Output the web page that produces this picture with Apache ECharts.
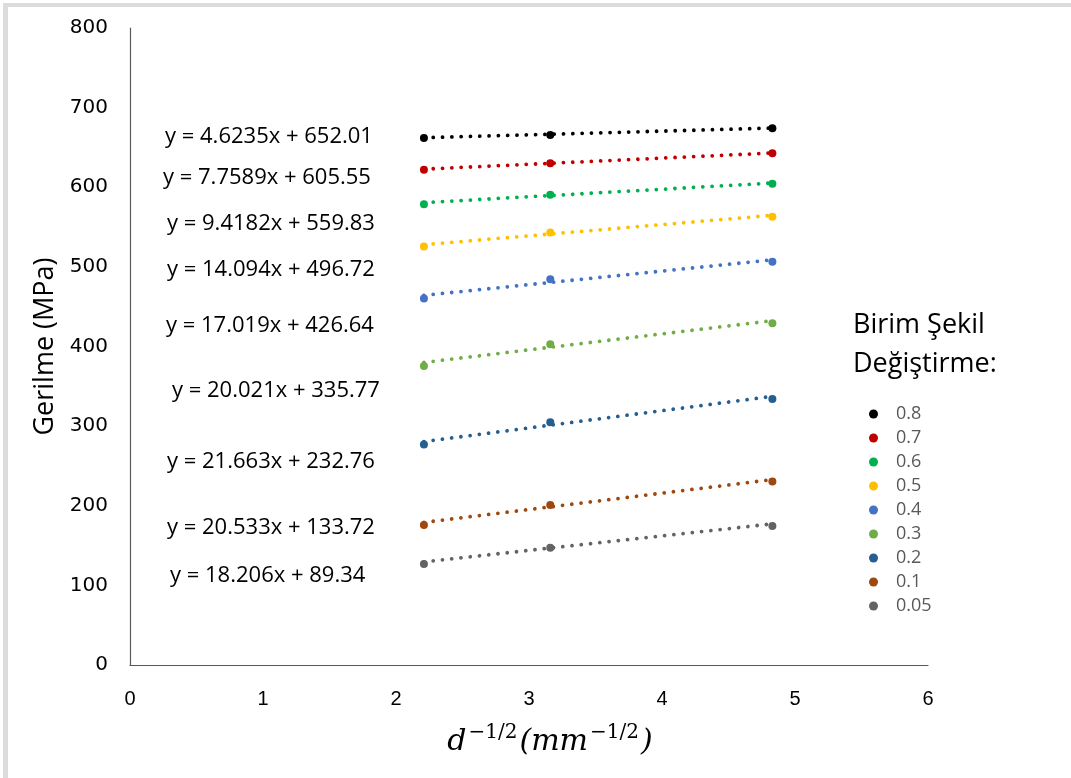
<!DOCTYPE html>
<html>
<head>
<meta charset="utf-8">
<script src="https://cdn.jsdelivr.net/npm/echarts@6/dist/echarts.min.js"></script>
<style>
  html, body { margin: 0; padding: 0; background: #ffffff; }
  #chart { width: 1071px; height: 778px; }
</style>
</head>
<body>
<div id="chart"></div>
<script>
// Grain size term d^(-1/2) for the three specimens
const xValues = [2.21, 3.16, 4.83];

// Strain levels (legend order)
const strainLabels = ['0.8', '0.7', '0.6', '0.5', '0.4', '0.3', '0.2', '0.1', '0.05'];

// Stress (MPa) at each strain level, one value per grain size
const stress08  = [662.0, 665.5, 674.2];
const stress07  = [621.9, 630.2, 642.8];
const stress06  = [578.7, 590.5, 604.3];
const stress05  = [525.5, 543.1, 562.8];
const stress04  = [460.2, 484.5, 506.3];
const stress03  = [375.6, 402.9, 429.3];
const stress02  = [276.8, 304.9, 334.2];
const stress01  = [175.9, 201.0, 230.3];
const stress005 = [126.9, 147.4, 174.6];

// Linear trendline coefficients (y = slope * x + intercept)
const slopes     = [4.6235, 7.7589, 9.4182, 14.094, 17.019, 20.021, 21.663, 20.533, 18.206];
const intercepts = [652.01, 605.55, 559.83, 496.72, 426.64, 335.77, 232.76, 133.72, 89.34];

// Equation text shown beside each trendline
const equationTexts = [
  'y = 4.6235x + 652.01',
  'y = 7.7589x + 605.55',
  'y = 9.4182x + 559.83',
  'y = 14.094x + 496.72',
  'y = 17.019x + 426.64',
  'y = 20.021x + 335.77',
  'y = 21.663x + 232.76',
  'y = 20.533x + 133.72',
  'y = 18.206x + 89.34'
];

const stressSeries = [stress08, stress07, stress06, stress05, stress04, stress03, stress02, stress01, stress005];
const colors = ['#000000', '#C00000', '#00B050', '#FFC000', '#4472C4', '#70AD47', '#255E91', '#9E480E', '#636363'];

// Screen placement of the equation labels (left edge, vertical centre)
const equationPlacement = [
  [165, 137], [163, 178], [167, 224], [167, 270], [166, 326],
  [172, 391], [167, 462], [167, 528], [170, 576]
];

const xMinData = Math.min(...xValues);
const xMaxData = Math.max(...xValues);

const series = [];
stressSeries.forEach((vals, i) => {
  series.push({
    name: strainLabels[i],
    type: 'scatter',
    symbol: 'circle',
    symbolSize: 8,
    itemStyle: { color: colors[i], opacity: 1 },
    emphasis: { disabled: true },
    data: xValues.map((x, k) => [x, vals[k]]),
    z: 3
  });
  series.push({
    name: 'trend-' + strainLabels[i],
    type: 'line',
    showSymbol: false,
    symbol: 'none',
    silent: true,
    lineStyle: { color: colors[i], width: 3.8, type: [0.01, 9.3], cap: 'round' },
    data: [
      [xMinData, slopes[i] * xMinData + intercepts[i]],
      [xMaxData, slopes[i] * xMaxData + intercepts[i]]
    ],
    z: 2
  });
});

const graphics = [
  // frame edges along the top and left
  {
    type: 'rect',
    shape: { x: 3, y: 3, width: 1068, height: 4 },
    style: { fill: '#dcdcdc' },
    silent: true
  },
  {
    type: 'rect',
    shape: { x: 3, y: 3, width: 5, height: 775 },
    style: { fill: '#dcdcdc' },
    silent: true
  },
  {
    type: 'text',
    x: 853,
    y: 325,
    style: {
      text: 'Birim Şekil',
      font: '27px "Open Sans", sans-serif',
      fill: '#000000',
      verticalAlign: 'middle'
    }
  },
  {
    type: 'text',
    x: 853,
    y: 364,
    style: {
      text: 'Değiştirme:',
      font: '27px "Open Sans", sans-serif',
      fill: '#000000',
      verticalAlign: 'middle'
    }
  }
];
equationTexts.forEach((t, i) => {
  graphics.push({
    type: 'text',
    x: equationPlacement[i][0],
    y: equationPlacement[i][1],
    style: { text: t, font: '22px "Open Sans", sans-serif', fill: '#000000', verticalAlign: 'middle' }
  });
});

const chart = echarts.init(document.getElementById('chart'), null, { renderer: 'canvas' });
chart.setOption({
  backgroundColor: '#ffffff',
  animation: false,
  grid: { left: 130, right: 143, top: 28, bottom: 113, containLabel: false },
  xAxis: {
    type: 'value',
    min: 0, max: 6, interval: 1,
    axisLine: { show: true, lineStyle: { color: '#595959', width: 1.2 } },
    axisTick: { show: false },
    splitLine: { show: false },
    axisLabel: { margin: 24, fontSize: 20, color: '#000000', fontFamily: '"Liberation Sans Narrow", "Liberation Sans", sans-serif' },
    name: '{it|d}{sup|−1/2}{it|(mm}{sup|−1/2}{it|)}',
    nameLocation: 'middle',
    nameGap: 58,
    nameTextStyle: {
      padding: [0, 0, 0, 42],
      rich: {
        it: { fontFamily: '"DejaVu Serif", serif', fontStyle: 'italic', fontSize: 30, color: '#000', verticalAlign: 'bottom' },
        sup: { fontFamily: '"DejaVu Serif", serif', fontSize: 20, color: '#000', padding: [0, 2, 14, 2], verticalAlign: 'bottom' }
      }
    }
  },
  yAxis: {
    type: 'value',
    min: 0, max: 800, interval: 100,
    axisLine: { show: true, lineStyle: { color: '#595959', width: 1.2 } },
    axisTick: { show: false },
    splitLine: { show: false },
    axisLabel: { margin: 22, fontSize: 20, color: '#000000', fontFamily: '"DejaVu Sans", sans-serif' },
    name: 'Gerilme (MPa)',
    nameLocation: 'middle',
    nameGap: 71,
    nameRotate: 90,
    nameTextStyle: { fontSize: 27, color: '#000000', fontFamily: '"Open Sans", sans-serif' }
  },
  legend: {
    orient: 'vertical',
    left: 864,
    top: 400,
    itemGap: 6,
    itemWidth: 9,
    itemHeight: 9,
    icon: 'circle',
    data: strainLabels,
    textStyle: { fontSize: 18, color: '#595959', fontFamily: '"Open Sans", sans-serif', padding: [0, 0, 0, 13] },
    selectedMode: false
  },
  series: series,
  graphic: graphics
});
</script>
</body>
</html>
